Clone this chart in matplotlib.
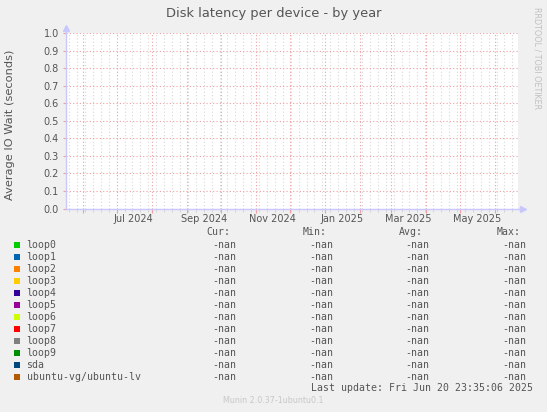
import numpy as np
import matplotlib
matplotlib.use("Agg")
import matplotlib.pyplot as plt
import matplotlib.dates as mdates
from matplotlib.patches import Rectangle
from datetime import datetime

# data (munin disk latency, every value is nan)
devices = ['loop0', 'loop1', 'loop2', 'loop3', 'loop4', 'loop5', 'loop6',
           'loop7', 'loop8', 'loop9', 'sda', 'ubuntu-vg/ubuntu-lv']
colors = ['#00CC00', '#0066B3', '#FF8000', '#FFCC00', '#330099', '#990099',
          '#CCFF00', '#FF0000', '#808080', '#008F00', '#00487D', '#B35A00']
cur_vals = ['-nan'] * 12
min_vals = ['-nan'] * 12
avg_vals = ['-nan'] * 12
max_vals = ['-nan'] * 12
t_start = datetime(2024, 5, 16, 23, 35, 6)
t_end = datetime(2025, 6, 20, 23, 35, 6)
sample_times = [t_start, t_end]
sample_vals = [np.nan, np.nan]
y_ticks = [0.0, 0.1, 0.2, 0.3, 0.4, 0.5, 0.6, 0.7, 0.8, 0.9, 1.0]

W, H = 547, 412
TXT = '#555555'
AXC = '#C8C8FF'
RED = '#F0A0A0'

def fx(px):
    return px / W

def fy(py):
    return 1 - py / H

fig = plt.figure(figsize=(W / 100, H / 100), dpi=100, facecolor='#F0F0F0')
ax = fig.add_axes([fx(65.7), fy(208.5), fx(518) - fx(65.7), fy(33.3) - fy(208.5)])
ax.set_facecolor('white')

for dev, c in zip(devices, colors):
    ax.plot(sample_times, sample_vals, color=c, lw=1, zorder=3)

ax.set_xlim(t_start, t_end)
ax.set_ylim(0, 1.0)

# grid: gray dotted at weeks, red dotted at months and every 0.1
ax.xaxis.set_major_locator(mdates.MonthLocator())
ax.xaxis.set_major_formatter(plt.NullFormatter())
ax.xaxis.set_minor_locator(mdates.WeekdayLocator(byweekday=mdates.MO))
ax.set_yticks(y_ticks)
ax.set_yticklabels(['%.1f' % v for v in y_ticks])
ax.grid(True, which='minor', axis='x', color='#D8D8D8', ls=(0, (1, 2)), lw=0.8)
ax.grid(True, which='major', axis='y', color=RED, ls=(0, (1, 2)), lw=0.8)
month_starts = mdates.MonthLocator().tick_values(t_start, t_end)
ax.vlines(month_starts, 0, 1, transform=ax.get_xaxis_transform(), colors=RED,
          linestyles=(0, (1, 2)), lw=0.8, zorder=2)
ax.tick_params(axis='x', which='major', length=3, color=RED, direction='out')
ax.tick_params(axis='x', which='minor', length=2, color='#D0D0D0', direction='out')
ax.tick_params(axis='y', length=2, color=RED, labelsize=7, labelcolor=TXT, pad=3)

# month labels centred mid-month
sec = ax.secondary_xaxis('bottom')
sec.xaxis.set_major_locator(mdates.MonthLocator(bymonth=[1, 3, 5, 7, 9, 11], bymonthday=16))
sec.xaxis.set_major_formatter(mdates.DateFormatter('%b %Y'))
sec.tick_params(length=0, labelsize=7, labelcolor=TXT, pad=4)
sec.spines['bottom'].set_visible(False)

for s in ['top', 'right']:
    ax.spines[s].set_visible(False)
for s in ['left', 'bottom']:
    ax.spines[s].set_color(AXC)
    ax.spines[s].set_linewidth(1)
    ax.spines[s].set_zorder(4)

# axis arrows
ax.plot([1, 1.012], [0, 0], color=AXC, lw=1, transform=ax.transAxes, clip_on=False)
ax.plot([1.012], [0], marker='>', ms=4, color=AXC, transform=ax.transAxes, clip_on=False)
ax.plot([0, 0], [1, 1.03], color=AXC, lw=1, transform=ax.transAxes, clip_on=False)
ax.plot([0], [1.03], marker='^', ms=4, color=AXC, transform=ax.transAxes, clip_on=False)

fig.text(fx(273.5), fy(13), 'Disk latency per device - by year', ha='center', va='center',
         fontsize=9.4, color=TXT)
fig.text(fx(10), fy(124.5), 'Average IO Wait (seconds)', rotation=90, ha='center', va='center',
         fontsize=8.2, color=TXT)
fig.text(fx(537.5), fy(58), 'RRDTOOL / TOBI OETIKER', rotation=270, ha='center', va='center',
         fontsize=5.8, color='#C0C0C0')

# legend table
mono = dict(family='DejaVu Sans Mono', fontsize=7.1, color=TXT)
col_right = [236.5, 333.4, 429.7, 526.7]
head_right = [230, 326.8, 423, 520.4]
for xr, h in zip(head_right, ['Cur:', 'Min:', 'Avg:', 'Max:']):
    fig.text(fx(xr), fy(232.3), h, ha='right', va='center', **mono)

row0, dy = 245, 12.0
for i, dev in enumerate(devices):
    y = row0 + i * dy
    fig.patches.append(Rectangle((fx(14), fy(y + 3)), fx(5.5), fy(y - 3) - fy(y + 3),
                                 transform=fig.transFigure, color=colors[i], lw=0))
    fig.text(fx(26.5), fy(y), dev, ha='left', va='center', **mono)
    for xr, vals in zip(col_right, [cur_vals, min_vals, avg_vals, max_vals]):
        fig.text(fx(xr), fy(y), vals[i], ha='right', va='center', **mono)

fig.text(fx(532.6), fy(388.3), 'Last update: Fri Jun 20 23:35:06 2025', ha='right', va='center', **mono)
fig.text(fx(273), fy(400.7), 'Munin 2.0.37-1ubuntu0.1', ha='center', va='center',
         fontsize=5.8, color='#C8C8C8')

fig.savefig('out.png', dpi=100, facecolor=fig.get_facecolor())
